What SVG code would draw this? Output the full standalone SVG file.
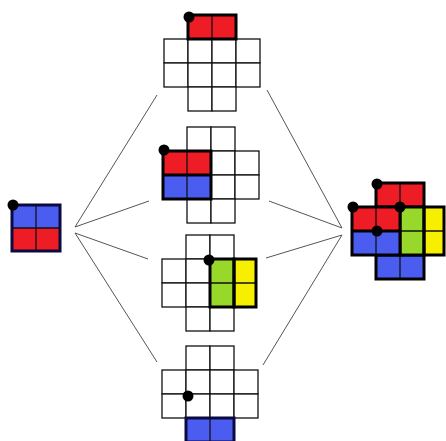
<svg xmlns="http://www.w3.org/2000/svg" width="446" height="441" viewBox="0 0 446 441">
<style>
.cell{fill:#fff;stroke:#111;stroke-width:1.3}
.red{fill:#ee1c25}
.blue{fill:#4b5cf0}
.green{fill:#98d82a}
.yellow{fill:#f7ef00}
.div{stroke:#111;stroke-width:1.3;fill:none}
.box{fill:none;stroke:#000;stroke-width:3}
.bbox{fill:none;stroke:#0a0a40;stroke-width:3}
.dot{fill:#000}
.con{stroke:#555;stroke-width:1;fill:none}
</style>
<rect width="446" height="441" fill="#fff"/>
<g id="connectors">
<line class="con" x1="75" y1="227" x2="157" y2="95"/>
<line class="con" x1="75" y1="227" x2="149" y2="201"/>
<line class="con" x1="75" y1="233" x2="148" y2="259"/>
<line class="con" x1="75" y1="233" x2="157" y2="362"/>
<line class="con" x1="342" y1="228" x2="267" y2="90"/>
<line class="con" x1="342" y1="228" x2="269" y2="201"/>
<line class="con" x1="342" y1="235" x2="266" y2="258"/>
<line class="con" x1="342" y1="235" x2="263" y2="365"/>
</g>
<g id="left">
<rect class="blue" x="12" y="205" width="48" height="23"/>
<rect class="red" x="12" y="228" width="48" height="23"/>
<line class="div" x1="12" y1="228" x2="60" y2="228"/>
<line class="div" x1="36" y1="205" x2="36" y2="251"/>
<rect class="bbox" x="12" y="205" width="48" height="46"/>
<circle class="dot" cx="13" cy="205" r="5.5"/>
</g>
<g id="grid1">
<rect class="cell" x="164" y="39" width="24" height="24"/><rect class="cell" x="188" y="39" width="24" height="24"/><rect class="cell" x="212" y="39" width="24" height="24"/><rect class="cell" x="236" y="39" width="24" height="24"/>
<rect class="cell" x="164" y="63" width="24" height="24"/><rect class="cell" x="188" y="63" width="24" height="24"/><rect class="cell" x="212" y="63" width="24" height="24"/><rect class="cell" x="236" y="63" width="24" height="24"/>
<rect class="cell" x="188" y="87" width="24" height="24"/><rect class="cell" x="212" y="87" width="24" height="24"/>
<rect class="red" x="188" y="15" width="48" height="24"/>
<line class="div" x1="212" y1="15" x2="212" y2="39"/>
<rect class="box" x="188" y="15" width="48" height="24"/>
<circle class="dot" cx="189" cy="17" r="5.5"/>
</g>
<g id="grid2">
<rect class="cell" x="187" y="127" width="24" height="24"/><rect class="cell" x="211" y="127" width="24" height="24"/>
<rect class="cell" x="211" y="151" width="24" height="24"/><rect class="cell" x="235" y="151" width="24" height="24"/>
<rect class="cell" x="211" y="175" width="24" height="24"/><rect class="cell" x="235" y="175" width="24" height="24"/>
<rect class="cell" x="187" y="199" width="24" height="24"/><rect class="cell" x="211" y="199" width="24" height="24"/>
<rect class="red" x="163" y="151" width="48" height="24"/>
<rect class="blue" x="163" y="175" width="48" height="24"/>
<line class="div" x1="187" y1="151" x2="187" y2="199"/>
<line class="box" x1="163" y1="175" x2="211" y2="175"/>
<rect class="box" x="163" y="151" width="48" height="48"/>
<circle class="dot" cx="164" cy="150" r="5.5"/>
</g>
<g id="grid3">
<rect class="cell" x="186" y="235" width="24" height="24"/><rect class="cell" x="210" y="235" width="24" height="24"/>
<rect class="cell" x="162" y="259" width="24" height="24"/><rect class="cell" x="186" y="259" width="24" height="24"/>
<rect class="cell" x="162" y="283" width="24" height="24"/><rect class="cell" x="186" y="283" width="24" height="24"/>
<rect class="cell" x="186" y="307" width="24" height="24"/><rect class="cell" x="210" y="307" width="24" height="24"/>
<rect class="green" x="210" y="259" width="24" height="48"/>
<rect class="yellow" x="234" y="259" width="22" height="48"/>
<line class="div" x1="210" y1="283" x2="256" y2="283"/>
<rect class="box" x="210" y="259" width="24" height="48"/>
<rect class="box" x="234" y="259" width="22" height="48"/>
<circle class="dot" cx="209" cy="260" r="5.5"/>
</g>
<g id="grid4">
<rect class="cell" x="186" y="346" width="24" height="24"/><rect class="cell" x="210" y="346" width="24" height="24"/>
<rect class="cell" x="162" y="370" width="24" height="24"/><rect class="cell" x="186" y="370" width="24" height="24"/><rect class="cell" x="210" y="370" width="24" height="24"/><rect class="cell" x="234" y="370" width="24" height="24"/>
<rect class="cell" x="162" y="394" width="24" height="24"/><rect class="cell" x="186" y="394" width="24" height="24"/><rect class="cell" x="210" y="394" width="24" height="24"/><rect class="cell" x="234" y="394" width="24" height="24"/>
<rect class="blue" x="186" y="418" width="48" height="24"/>
<line class="div" x1="210" y1="418" x2="210" y2="442"/>
<rect class="bbox" x="186" y="418" width="48" height="24"/>
<circle class="dot" cx="188" cy="396" r="5.5"/>
</g>
<g id="right">
<rect class="red" x="376" y="183" width="48" height="24"/>
<line class="div" x1="400" y1="183" x2="400" y2="207"/>
<rect class="box" x="376" y="183" width="48" height="24"/>
<rect class="blue" x="376" y="255" width="48" height="24"/>
<line class="div" x1="400" y1="255" x2="400" y2="279"/>
<rect class="box" x="376" y="255" width="48" height="24"/>
<rect class="green" x="400" y="207" width="24" height="48"/>
<rect class="yellow" x="424" y="207" width="21" height="48"/>
<line class="div" x1="400" y1="231" x2="445" y2="231"/>
<rect class="box" x="400" y="207" width="24" height="48"/>
<rect class="box" x="424" y="207" width="20" height="48"/>
<rect class="red" x="352" y="207" width="48" height="24"/>
<rect class="blue" x="352" y="231" width="48" height="24"/>
<line class="div" x1="376" y1="207" x2="376" y2="255"/>
<line class="box" x1="352" y1="231" x2="400" y2="231"/>
<rect class="box" x="352" y="207" width="48" height="48"/>
<circle class="dot" cx="377" cy="184" r="5.5"/>
<circle class="dot" cx="353" cy="207" r="5.5"/>
<circle class="dot" cx="400" cy="207" r="5.5"/>
<circle class="dot" cx="377" cy="231" r="5.5"/>
</g>
</svg>
